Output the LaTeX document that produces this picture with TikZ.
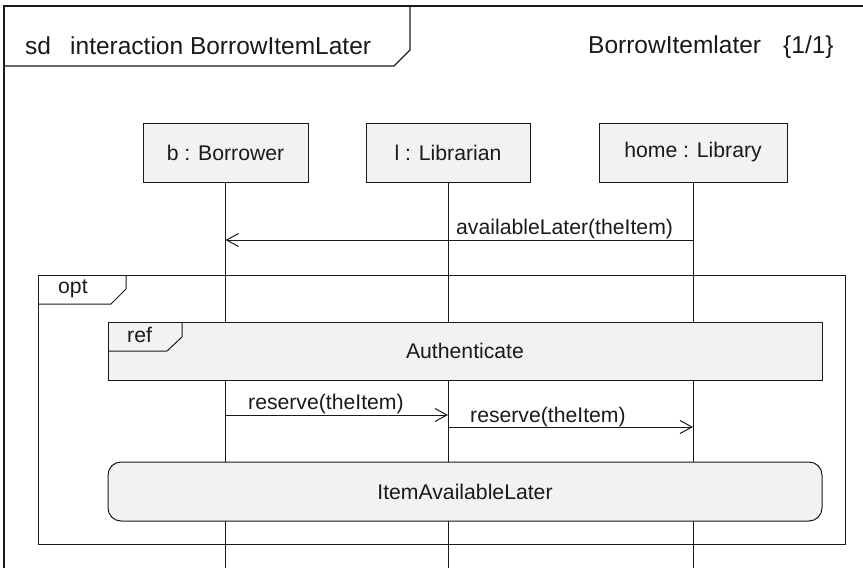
\documentclass[tikz,border=0pt]{standalone}
\usepackage{fontspec}
\setmainfont{Liberation Sans}
\usetikzlibrary{arrows.meta}
\definecolor{ink}{HTML}{1A1A1A}
\definecolor{boxfill}{HTML}{F2F2F2}

\begin{document}
\begin{tikzpicture}[x=1pt,y=-1pt,
  every node/.style={font=\fontsize{21.2}{25}\selectfont, text=ink},
  umlline/.style={draw=ink, line width=1pt},
  frameline/.style={draw=ink, line width=1.3pt},
  lifebox/.style={umlline, fill=boxfill, minimum height=59pt, inner sep=0pt},
  msg/.style={umlline, -{Straight Barb[length=12pt,width=13pt]}},
  msglabel/.style={anchor=base west, inner sep=0pt},
  headtext/.style={anchor=base west, inner sep=0pt, font=\fontsize{24.5}{29}\selectfont},
  usebox/.style={umlline, fill=boxfill, inner sep=0pt},
]
\useasboundingbox (0,0) rectangle (863,568);

% rows used by messages and lifeline ends
\coordinate (row1) at (0,240);
\coordinate (row2) at (0,415);
\coordinate (row3) at (0,427);
\coordinate (bottom) at (0,568);

% diagram frame and its heading
\coordinate (frameSW) at (4,568);
\coordinate (frameNW) at (4,6);
\coordinate (frameNE) at (863,6);
\draw[frameline] (frameSW) -- (frameNW) -- (frameNE);
\draw[frameline] (4,66) -- (394,66) -- (410,50) -- (410,6);
\node[headtext] (sdkw) at (25,54) {sd};
\node[headtext] (sdname) at (70,54) {interaction BorrowItemLater};
\node[headtext] (diagname) at (588,53) {BorrowItemlater};
\node[headtext] (page) at (783,53) {\{1/1\}};

% participants
\node[lifebox, minimum width=165pt] (b) at (225.5,152.5) {b : Borrower};
\node[lifebox, minimum width=164pt] (l) at (448,152.5) {l : Librarian};
\node[lifebox, minimum width=188pt] (home) at (693,152.5) {home : Library};

% lifelines
\draw[umlline] (b.south) -- (b.south |- bottom);
\draw[umlline] (l.south) -- (l.south |- bottom);
\draw[umlline] (home.south) -- (home.south |- bottom);

% first message
\draw[msg] (home.south |- row1) -- (b.south |- row1);
\node[msglabel] (m1) at (456,234) {availableLater(theItem)};

% opt fragment
\draw[umlline] (38,275) rectangle (845,544);
\draw[umlline] (126,275) -- (126,289) -- (111,304) -- (38,304);
\node[msglabel] (optkw) at (58,293) {opt};

% interaction use: Authenticate
\node[usebox, minimum width=714pt, minimum height=58pt] (auth) at (465,351) {Authenticate};
\draw[umlline] (182,322) -- (182,337) -- (167,351) -- (108,351);
\node[msglabel] (refkw) at (127,342) {ref};

% reserve messages
\draw[msg] (b.south |- row2) -- (l.south |- row2);
\node[msglabel] (m2) at (248,409) {reserve(theItem)};
\draw[msg] (l.south |- row3) -- (home.south |- row3);
\node[msglabel] (m3) at (470,422) {reserve(theItem)};

% continuation
\node[usebox, rounded corners=13pt, minimum width=714pt, minimum height=59pt] (later) at (465,491.5) {ItemAvailableLater};
\end{tikzpicture}
\end{document}
